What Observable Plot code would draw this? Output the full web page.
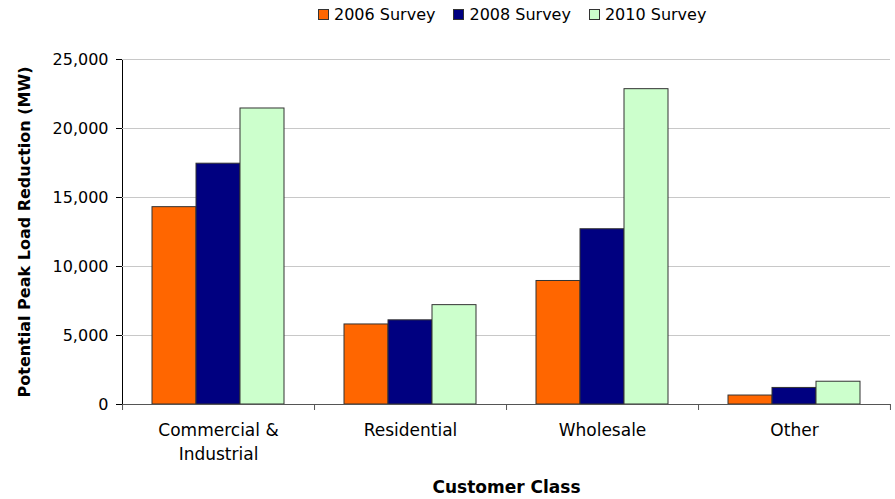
<!DOCTYPE html>
<html>
<head>
<meta charset="utf-8">
<script src="https://cdn.jsdelivr.net/npm/d3@7"></script>
<script src="https://cdn.jsdelivr.net/npm/@observablehq/plot@0.6"></script>
<style>
  body { margin: 0; background: #fff; font-family: "DejaVu Sans", sans-serif; }
  #wrap { position: relative; width: 895px; height: 499px; overflow: hidden; }
  #legend { position: absolute; top: 5px; left: 318px; display: flex; align-items: center; gap: 18px; font-size: 16px; color: #000; }
  .item { display: flex; align-items: center; gap: 5px; }
  .sw { width: 9px; height: 9px; border: 1px solid #333; }
  #chart { position: absolute; top: 0; left: 0; }
  #chart [aria-label="y-axis label"], #chart [aria-label="fx-axis label"] { font-weight: bold; }
</style>
</head>
<body>
<div id="wrap"><div id="legend"></div><div id="chart"></div></div>
<script>
const categories = ["Commercial & Industrial", "Residential", "Wholesale", "Other"];
const categoryLabels = ["Commercial &\nIndustrial", "Residential", "Wholesale", "Other"];
const series = ["2006 Survey", "2008 Survey", "2010 Survey"];
const seriesColors = ["#FF6600", "#000080", "#CCFFCC"];
const values2006 = [14300, 5800, 8950, 650];
const values2008 = [17450, 6100, 12700, 1200];
const values2010 = [21450, 7200, 22850, 1650];
const yTicks = [0, 5000, 10000, 15000, 20000, 25000];

const allValues = [values2006, values2008, values2010];
const data = [];
categories.forEach((c, i) => series.forEach((s, j) => data.push({category: c, series: s, value: allValues[j][i]})));
const labelOf = new Map(categories.map((c, i) => [c, categoryLabels[i]]));

// legend
const legend = document.getElementById("legend");
series.forEach((s, j) => {
  const it = document.createElement("div"); it.className = "item";
  const sw = document.createElement("div"); sw.className = "sw"; sw.style.background = seriesColors[j];
  const t = document.createElement("span"); t.textContent = s;
  it.append(sw, t); legend.append(it);
});

const W = 895, H = 499, ML = 122, MR = 5, MT = 59, MB = 95;
const pad = 0.68;
const fxStep = (W - ML - MR) / categories.length;
const xStep = fxStep / (series.length + 2 * pad);
const edge = xStep * (0.5 + pad);

const leftTicks = categories.map(c => ({category: c, series: series[0]}));
const rightTicks = [{category: categories[categories.length - 1], series: series[series.length - 1]}];

const plot = Plot.plot({
  width: W, height: H, marginTop: MT, marginBottom: MB, marginLeft: ML, marginRight: MR,
  style: {fontFamily: "DejaVu Sans", fontSize: "16px", color: "#000", background: "transparent"},
  fx: {domain: categories, padding: 0, axis: null},
  x: {domain: series, paddingOuter: pad, paddingInner: 0, axis: null},
  y: {domain: [0, 25000], ticks: yTicks, tickFormat: d3.format(","), tickSize: 6, tickPadding: 8,
      line: true, label: "Potential Peak Load Reduction (MW)", labelAnchor: "center", labelOffset: 104, labelArrow: "none"},
  color: {domain: series, range: seriesColors},
  marks: [
    Plot.gridY(yTicks.slice(1), {stroke: "#c8c8c8", strokeOpacity: 1, strokeWidth: 1}),
    Plot.barY(data, {fx: "category", x: "series", y: "value", fill: "series", stroke: "#333", strokeWidth: 1}),
    Plot.ruleY([0], {stroke: "#555"}),
    Plot.ruleX(leftTicks, {fx: "category", x: "series", y1: 0, y2: 0, insetTop: 6, dx: -edge, stroke: "#555"}),
    Plot.ruleX(rightTicks, {fx: "category", x: "series", y1: 0, y2: 0, insetTop: 6, dx: edge, stroke: "#555"}),
    Plot.axisFx({anchor: "bottom", tickSize: 0, tickPadding: 15, lineHeight: 1.4, fontSize: 17, tickFormat: d => labelOf.get(d),
      label: "Customer Class", labelAnchor: "center", labelOffset: 88})
  ]
});
document.getElementById("chart").append(plot);
</script>
</body>
</html>
